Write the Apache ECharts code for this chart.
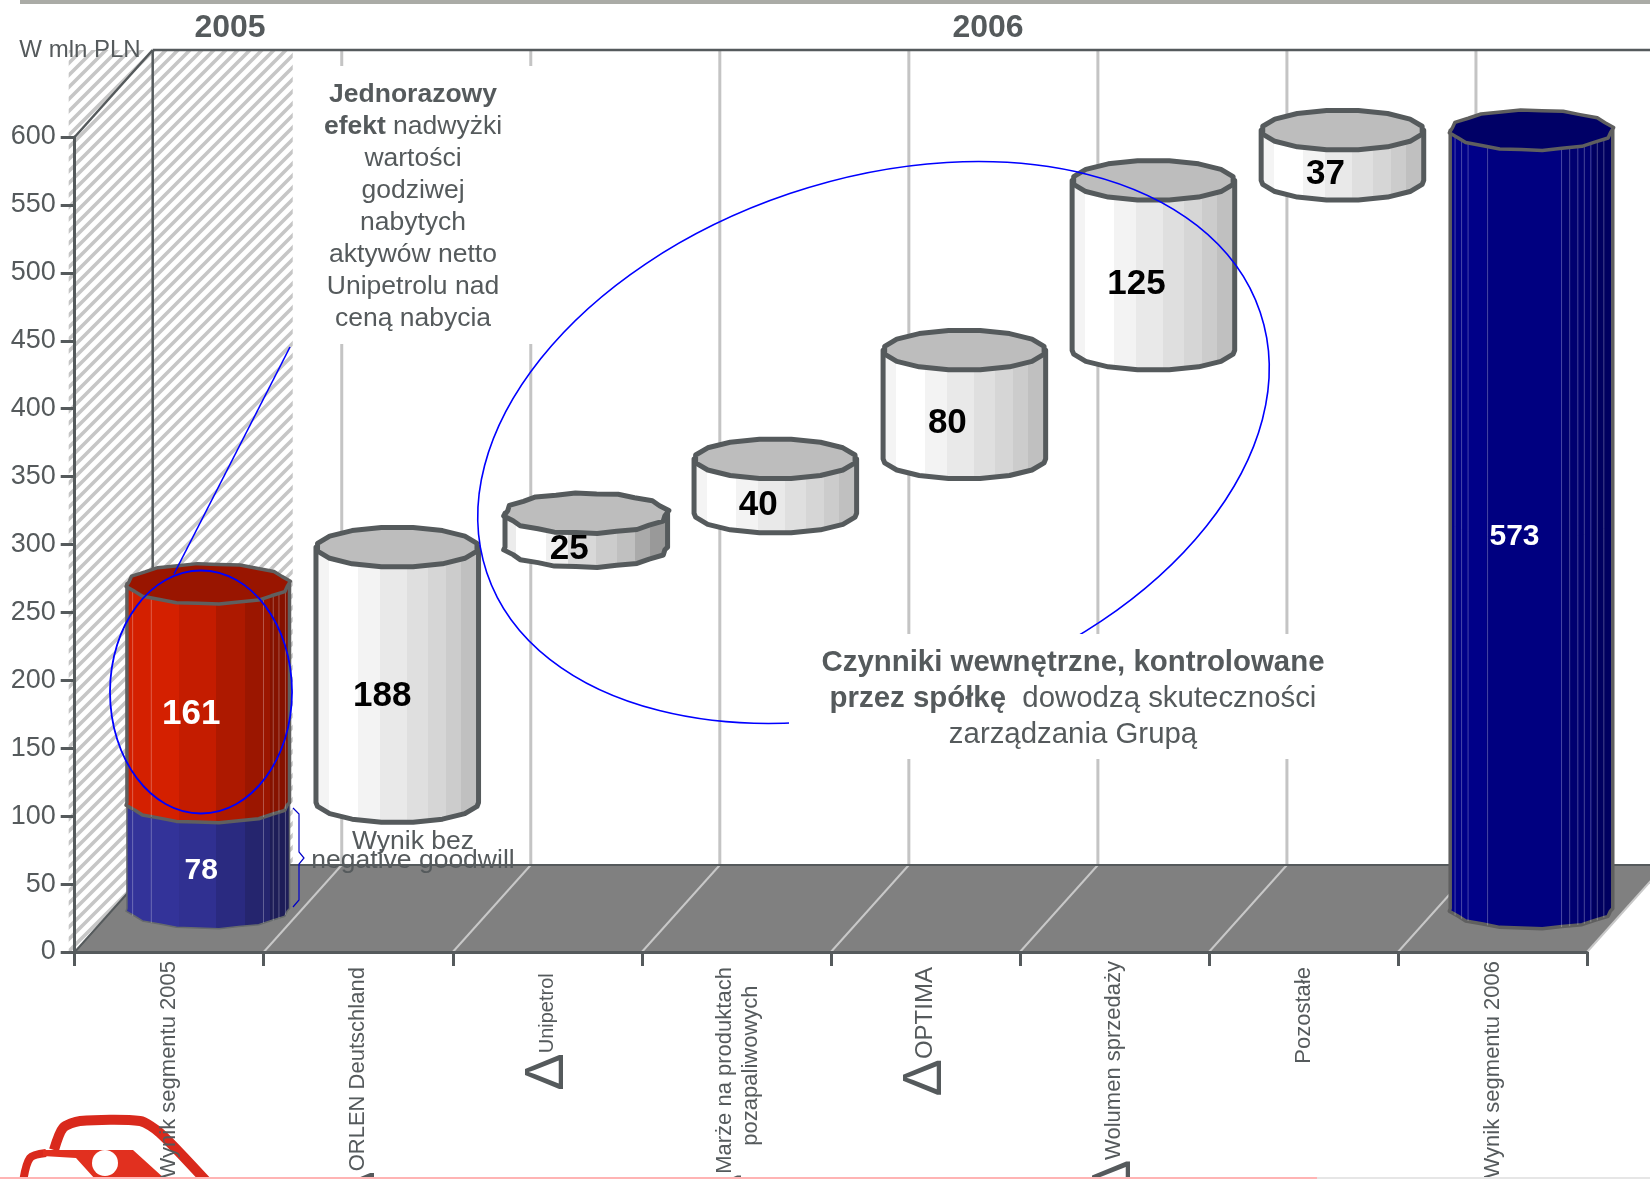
<!DOCTYPE html>
<html>
<head>
<meta charset="utf-8">
<style>
  html, body { margin: 0; padding: 0; background: #fff; }
  #chart { width: 1650px; height: 1179px; }
</style>
<script src="https://cdn.jsdelivr.net/npm/echarts@6/dist/echarts.min.js"></script>
</head>
<body>
<div id="chart"></div>
<script>
const categories = [
  'Wynik segmentu 2005', 'ORLEN Deutschland', 'Unipetrol', 'Marże na produktach',
  'OPTIMA', 'Wolumen sprzedaży', 'Pozostałe', 'Wynik segmentu 2006'
]
const yTicks = [0, 600, 50]

// waterfall, in mln PLN
const withoutGoodwill = 78
const negativeGoodwill = 161
const steps = [188, 25, 40, 80, 125, 37]
const total2006 = 573

const INK = '#555a5c'
const BLUE = '#0000ff'

// depth of the 3d box
const DEPTH_X = 78
const DEPTH_Y = -87

const shades = {
  white: {
    stops: [-1, -0.82, -0.47, -0.21, 0.12, 0.37, 0.58, 0.76, 1],
    colors: ['#f4f4f4', '#ffffff', '#f3f3f3', '#e9e9e9', '#dfdfdf', '#d6d6d6', '#cccccc', '#c0c0c0'],
    top: '#bdbdbd', stroke: INK, width: 5, n: 16, wave: 0, ribs: [], text: '#000'
  },
  wavy: {
    stops: [-1, -0.82, -0.47, -0.21, 0.12, 0.37, 0.58, 0.76, 1],
    colors: ['#ececec', '#ffffff', '#f0f0f0', '#d8d8d8', '#cccccc', '#c0c0c0', '#aaaaaa', '#999999'],
    top: '#bdbdbd', stroke: INK, width: 5, n: 24, wave: 0.025, ribs: [], text: '#000'
  },
  red: {
    stops: [-1, -0.35, 0.1, 0.45, 0.75, 1],
    colors: ['#d42000', '#c41c00', '#ad1900', '#9b1600', '#851200'],
    top: '#991500', stroke: '#5f5f5f', width: 3.5, n: 24, wave: 0.02,
    ribs: [-0.93, -0.7, 0.68, 0.8, 0.87, 0.95], text: '#fff'
  },
  blue: {
    stops: [-1, -0.35, 0.1, 0.45, 0.75, 1],
    colors: ['#333399', '#303091', '#2a2a80', '#25256e', '#1d1d58'],
    top: '#2a2a80', stroke: '#666a6c', width: 1.5, n: 24, wave: 0.02,
    ribs: [-0.93, -0.7, 0.68, 0.8, 0.87, 0.95], text: '#fff'
  },
  navy: {
    stops: [-1, -0.54, 0.37, 0.73, 1],
    colors: ['#000088', '#000080', '#000070', '#000060'],
    top: '#000066', stroke: '#5f5f5f', width: 3.5, n: 24, wave: 0.02,
    ribs: [-0.94, -0.86, -0.78, -0.54, 0.37, 0.47, 0.57, 0.65, 0.73, 0.81, 0.89], text: '#fff'
  }
}

// [category, from, to, look, label font, label dx, label dy]
const segments = []
segments.push([0, 0, withoutGoodwill, 'blue', 30, -7, 15])
segments.push([0, withoutGoodwill, withoutGoodwill + negativeGoodwill, 'red', 35, -17, 21])
let level = withoutGoodwill
steps.forEach((v, i) => {
  segments.push([i + 1, level, level + v, i === 1 ? 'wavy' : 'white', 35, i === 0 ? -15 : -17, i === 0 ? 21 : 19])
  level += v
})
segments.push([7, 0, total2006, 'navy', 30, -17, 17])

function hatchTile() {
  const c = document.createElement('canvas')
  c.width = c.height = 12
  const g = c.getContext('2d')
  g.fillStyle = '#fff'
  g.fillRect(0, 0, 12, 12)
  g.strokeStyle = '#c6c6c6'
  g.lineWidth = 3.6
  g.beginPath()
  for (let k = -12; k <= 24; k += 12) {
    g.moveTo(k - 2, 14)
    g.lineTo(k + 14, -2)
  }
  g.stroke()
  return c
}

// the room: hatched panel, floor, walls
const renderRoom = (params, api) => {
  const o = api.coord([0, 0])
  const top = api.coord([0, yTicks[1]])
  const band = api.size([1, 0])[0]
  const left = o[0] - band / 2
  const right = api.coord([categories.length - 1, 0])[0] + band / 2
  const y0 = o[1]
  const yTop = top[1]
  const line = (x1, y1, x2, y2, stroke, lineWidth) => ({
    type: 'line',
    shape: { x1, y1, x2, y2 },
    style: { stroke, lineWidth }
  })
  const kids = [
    {
      type: 'rect',
      shape: { x: left - 6, y: yTop + DEPTH_Y, width: band + 35, height: y0 - yTop - DEPTH_Y },
      style: { fill: { image: hatchTile(), repeat: 'repeat' } }
    },
    {
      type: 'polygon',
      shape: { points: [[left, y0], [right, y0], [right + DEPTH_X, y0 + DEPTH_Y], [left + DEPTH_X, y0 + DEPTH_Y]] },
      style: { fill: '#808080' }
    }
  ]
  for (let i = 1; i <= categories.length; i++) {
    const x = left + band * i
    if (i < categories.length) kids.push(line(x + DEPTH_X, yTop + DEPTH_Y, x + DEPTH_X, y0 + DEPTH_Y, '#c4c4c4', 3))
    kids.push(line(x, y0, x + DEPTH_X, y0 + DEPTH_Y, '#c8c8c8', 2))
  }
  kids.push(line(left + DEPTH_X, yTop + DEPTH_Y, left + DEPTH_X, y0 + DEPTH_Y, INK, 2.5))
  kids.push(line(left, yTop, left + DEPTH_X, yTop + DEPTH_Y, INK, 2.5))
  kids.push(line(left + DEPTH_X, yTop + DEPTH_Y, right + DEPTH_X, yTop + DEPTH_Y, INK, 2.5))
  kids.push(line(left, y0, left + DEPTH_X, y0 + DEPTH_Y, INK, 2))
  kids.push(line(left + DEPTH_X, y0 + DEPTH_Y, right + DEPTH_X, y0 + DEPTH_Y, INK, 2))
  return { type: 'group', children: kids }
}

// one faceted cylinder standing half way in the box
const renderCylinder = (params, api) => {
  const idx = api.value(0)
  const seg = segments[params.dataIndex]
  const look = shades[seg[3]]
  const base = api.coord([idx, api.value(1)])
  const head = api.coord([idx, api.value(2)])
  const band = api.size([1, 0])[0]
  const cx = base[0] + DEPTH_X / 2
  const rx = band * 0.43
  const ry = 20
  const yb = base[1] + DEPTH_Y / 2
  const yt = head[1] + DEPTH_Y / 2

  const ring = (y) => {
    const pts = []
    for (let i = 0; i < look.n; i++) {
      const t = (i + 0.5) * 2 * Math.PI / look.n
      const r = 1 + look.wave * (i % 2 ? 1 : -1)
      pts.push([cx + rx * r * Math.cos(t), y + ry * r * Math.sin(t)])
    }
    return pts
  }
  const front = ring(yb).slice(0, look.n / 2)
  const side = front.concat([[cx - rx, yb], [cx - rx, yt], [cx + rx, yt], [cx + rx, yb]])

  // hard colour stops give the flat facets
  const colorStops = []
  look.colors.forEach((color, i) => {
    colorStops.push({ offset: (look.stops[i] + 1) / 2, color })
    colorStops.push({ offset: (look.stops[i + 1] + 1) / 2, color })
  })

  const kids = [{
    type: 'polygon',
    shape: { points: side },
    style: {
      fill: { type: 'linear', x: 0, y: 0, x2: 1, y2: 0, colorStops },
      stroke: look.stroke, lineWidth: look.width, lineJoin: 'round'
    }
  }]
  look.ribs.forEach((f) => {
    const dy = ry * Math.sqrt(1 - f * f)
    kids.push({
      type: 'line',
      shape: { x1: cx + rx * f, y1: yt + dy, x2: cx + rx * f, y2: yb + dy },
      style: { stroke: 'rgba(255,255,255,0.28)', lineWidth: 1 }
    })
  })
  kids.push({
    type: 'polygon',
    shape: { points: ring(yt) },
    style: { fill: look.top, stroke: look.stroke, lineWidth: look.width, lineJoin: 'round' }
  })
  kids.push({
    type: 'text',
    x: cx + seg[5],
    y: (yt + yb) / 2 + seg[6],
    style: {
      text: String(api.value(2) - api.value(1)),
      fill: look.text,
      font: 'bold ' + seg[4] + 'px "Liberation Sans", Arial, sans-serif',
      align: 'center',
      verticalAlign: 'middle'
    }
  })
  return { type: 'group', children: kids }
}

const FONT = '"Liberation Sans", Arial, sans-serif'
const NB = '\u00a0'

const plainText = (text, x, y, size, weight, extra) => ({
  type: 'text',
  x, y, z: 60,
  style: Object.assign({
    text, fill: INK,
    font: (weight || 'normal') + ' ' + size + 'px ' + FONT,
    align: 'center', verticalAlign: 'middle'
  }, extra)
})

const option = {
  animation: false,
  backgroundColor: '#fff',
  grid: { left: 74.7, right: 63, top: 137, bottom: 227, containLabel: false, outerBoundsMode: 'none' },
  xAxis: {
    type: 'category',
    data: categories,
    boundaryGap: true,
    z: 10,
    axisLine: { lineStyle: { color: INK, width: 3 } },
    axisTick: { show: true, length: 14, alignWithLabel: false, lineStyle: { color: INK, width: 3 } },
    splitLine: { show: false },
    axisLabel: {
      interval: 0,
      rotate: 90,
      margin: 9,
      color: INK,
      fontFamily: FONT,
      fontSize: 22,
      formatter: (v, i) => {
        const parts = {
          1: '{d|Δ}' + v + NB,
          2: '{d|Δ}{u|Unipetrol}' + NB + NB,
          3: '{d|Δ}Marże na produktach' + NB + '\npozapaliwowych' + NB.repeat(4),
          4: '{d|Δ}{o|OPTIMA}' + NB,
          5: '{d|Δ}Wolumen sprzedaży',
          6: v + NB
        }
        return parts[i] || v
      },
      rich: {
        d: { fontSize: 56, lineHeight: 30, color: INK, fontFamily: FONT },
        u: { fontSize: 20, color: INK, fontFamily: FONT },
        o: { fontSize: 24, color: INK, fontFamily: FONT }
      }
    }
  },
  yAxis: {
    type: 'value',
    min: yTicks[0],
    max: yTicks[1],
    interval: yTicks[2],
    z: 10,
    axisLine: { show: true, lineStyle: { color: INK, width: 3 } },
    axisTick: { show: true, length: 14, lineStyle: { color: INK, width: 3 } },
    splitLine: { show: false },
    axisLabel: { color: INK, fontFamily: FONT, fontSize: 27, margin: 19 }
  },
  graphic: {
    elements: [
      { type: 'rect', z: 1, shape: { x: 20, y: 0, width: 1630, height: 4 }, style: { fill: '#aaaba6' } },
      plainText('2005', 230, 28, 32, 'bold'),
      plainText('2006', 988, 28, 32, 'bold'),
      plainText('W mln PLN', 80, 50, 24),

      // big oval, with the white text panels over it
      {
        type: 'ellipse', z: 50,
        x: 873.5, y: 442.5, rotation: 18.6 * Math.PI / 180,
        shape: { cx: 0, cy: 0, rx: 408, ry: 262.6 },
        style: { fill: 'none', stroke: BLUE, lineWidth: 1.6 }
      },
      { type: 'ellipse', z: 50, shape: { cx: 201, cy: 692, rx: 91, ry: 121.5 }, style: { fill: 'none', stroke: BLUE, lineWidth: 1.8 } },
      { type: 'line', z: 50, shape: { x1: 174, y1: 574, x2: 290, y2: 347 }, style: { stroke: BLUE, lineWidth: 1.6 } },
      {
        type: 'polyline', z: 50,
        shape: { points: [[293, 808], [299, 814], [299, 852], [304, 858], [299, 864], [299, 900], [293, 907]] },
        style: { fill: 'none', stroke: '#0000c8', lineWidth: 1.2 }
      },
      { type: 'rect', z: 55, shape: { x: 296, y: 66, width: 240, height: 278 }, style: { fill: '#fff' } },
      { type: 'rect', z: 55, shape: { x: 789, y: 634, width: 552, height: 125 }, style: { fill: '#fff' } },

      {
        type: 'text', z: 60, x: 413, y: 207,
        style: {
          rich: {
            b: { font: 'bold 26.5px ' + FONT, fill: INK, lineHeight: 32 },
            n: { font: '26.5px ' + FONT, fill: INK, lineHeight: 32 }
          },
          text: '{b|Jednorazowy}\n{b|efekt }{n|nadwyżki}\n{n|wartości}\n{n|godziwej}\n{n|nabytych}\n{n|aktywów netto}\n{n|Unipetrolu nad}\n{n|ceną nabycia}',
          align: 'center', verticalAlign: 'middle'
        }
      },
      {
        type: 'text', z: 60, x: 1073, y: 699,
        style: {
          rich: {
            b: { font: 'bold 29.4px ' + FONT, fill: INK, lineHeight: 36 },
            n: { font: '29.4px ' + FONT, fill: INK, lineHeight: 36 }
          },
          text: '{b|Czynniki wewnętrzne, kontrolowane}\n{b|przez spółkę  }{n|dowodzą skuteczności}\n{n|zarządzania Grupą}',
          align: 'center', verticalAlign: 'middle'
        }
      },
      plainText('Wynik bez', 413, 842, 26.5),
      plainText('negative goodwill', 413, 861, 26.5),

      // logo in the corner, cut by the page edge
      {
        type: 'polyline', z: 8,
        shape: { points: [[54, 1150], [63, 1128], [80, 1121], [140, 1121], [160, 1133], [207, 1182]], smooth: 0.25 },
        style: { fill: 'none', stroke: '#d9291c', lineWidth: 10 }
      },
      {
        type: 'polyline', z: 8,
        shape: { points: [[23, 1182], [30, 1158], [46, 1153]], smooth: 0.3 },
        style: { fill: 'none', stroke: '#d9291c', lineWidth: 8 }
      },
      {
        type: 'polygon', z: 8,
        shape: { points: [[43, 1150], [133, 1150], [165, 1179], [95, 1179], [76, 1158], [43, 1156]] },
        style: { fill: '#e1301f' }
      },
      { type: 'circle', z: 9, shape: { cx: 105, cy: 1163, r: 13 }, style: { fill: '#fff' } },
      { type: 'rect', z: 41, shape: { x: 0, y: 1177, width: 1317, height: 2 }, style: { fill: '#ffb4b4' } },
      { type: 'rect', z: 41, shape: { x: 1317, y: 1177, width: 333, height: 2 }, style: { fill: '#e6e6e6' } }
    ]
  },
  series: [
    {
      type: 'custom',
      name: 'room',
      z: 1,
      silent: true,
      clip: false,
      renderItem: renderRoom,
      data: [[0, 0]]
    },
    {
      type: 'custom',
      name: 'wynik',
      z: 5,
      clip: false,
      renderItem: renderCylinder,
      encode: { x: 0, y: [1, 2] },
      data: segments.map((s) => [s[0], s[1], s[2]])
    }
  ]
}

const chart = echarts.init(document.getElementById('chart'), null, { renderer: 'canvas' })
chart.setOption(option)
</script>
</body>
</html>
